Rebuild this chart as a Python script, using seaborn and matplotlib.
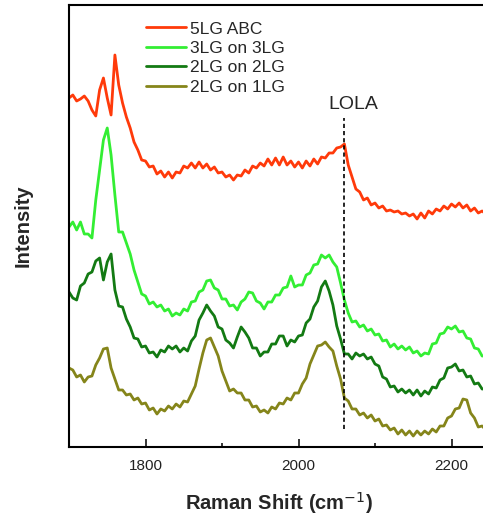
import numpy as np
import pandas as pd
import matplotlib
matplotlib.use("Agg")
import matplotlib.pyplot as plt
import seaborn as sns

# Raman shift grid (cm^-1)
raman_shift = list(range(1700, 2250, 5))

series_names = ["5LG ABC", "3LG on 3LG", "2LG on 2LG", "2LG on 1LG"]

# offset intensities (arb. units)
int_5lg_abc = [
    349, 352, 346, 348, 351, 346, 337, 331, 357, 369, 349, 332, 392, 362, 344, 330,
    319, 305, 297, 287, 286, 280, 281, 273, 276, 270, 275, 269, 275, 274, 281, 279,
    284, 279, 285, 279, 283, 277, 280, 274, 275, 270, 272, 267, 272, 271, 277, 274,
    281, 279, 284, 281, 288, 282, 289, 282, 290, 282, 286, 280, 285, 279, 286, 281,
    288, 283, 290, 289, 294, 294, 299, 300, 303, 282, 270, 258, 255, 247, 249, 242,
    244, 239, 241, 236, 237, 235, 236, 233, 234, 231, 233, 228, 234, 229, 236, 233,
    238, 236, 241, 238, 243, 240, 244, 239, 242, 236, 239, 234, 236, 233]
int_3lg_on_3lg = [
    220, 225, 217, 225, 213, 213, 209, 247, 277, 307, 319, 292, 252, 215, 215, 204,
    193, 177, 165, 153, 151, 143, 145, 140, 142, 136, 138, 131, 134, 132, 138, 136,
    145, 146, 155, 157, 166, 167, 159, 157, 148, 148, 141, 142, 137, 145, 148, 155,
    154, 146, 144, 138, 145, 145, 152, 152, 159, 160, 171, 160, 162, 162, 172, 174,
    182, 183, 192, 189, 192, 185, 180, 164, 147, 134, 125, 126, 120, 122, 116, 118,
    112, 113, 106, 107, 100, 103, 98, 101, 97, 100, 94, 96, 91, 94, 93, 103,
    104, 113, 114, 120, 118, 121, 115, 116, 109, 108, 99, 98, 91, 91]
int_2lg_on_2lg = [
    155, 149, 147, 161, 164, 173, 175, 186, 189, 167, 185, 193, 157, 141, 140, 128,
    120, 109, 108, 100, 101, 94, 95, 90, 97, 95, 101, 98, 101, 95, 99, 96,
    106, 111, 127, 134, 142, 136, 131, 120, 118, 107, 104, 99, 110, 120, 115, 109,
    99, 99, 91, 95, 95, 103, 103, 111, 111, 101, 107, 105, 111, 112, 124, 128,
    140, 146, 160, 166, 156, 142, 121, 108, 93, 93, 88, 94, 91, 93, 88, 90,
    83, 81, 70, 68, 60, 61, 55, 58, 54, 57, 52, 57, 51, 56, 53, 60,
    59, 67, 69, 79, 80, 83, 76, 77, 70, 71, 63, 64, 58, 58]
int_2lg_on_1lg = [
    79, 77, 70, 72, 65, 70, 71, 82, 89, 98, 99, 79, 68, 57, 57, 52,
    53, 47, 49, 43, 44, 37, 39, 33, 38, 36, 41, 38, 43, 40, 46, 45,
    53, 61, 78, 94, 107, 109, 100, 91, 76, 66, 56, 58, 54, 54, 47, 47,
    40, 41, 35, 37, 34, 40, 38, 44, 43, 49, 47, 54, 54, 63, 69, 83,
    92, 101, 102, 105, 100, 96, 81, 68, 49, 46, 38, 38, 32, 34, 29, 32,
    26, 28, 21, 22, 17, 19, 13, 17, 12, 16, 11, 16, 12, 16, 13, 18,
    15, 21, 21, 29, 31, 38, 39, 48, 47, 34, 29, 20, 21, 17]

series_values = [int_5lg_abc, int_3lg_on_3lg, int_2lg_on_2lg, int_2lg_on_1lg]
colors = ["#FF3A0A", "#33EE33", "#137A13", "#85851A"]

lola_position = 2059
lola_span = (18, 329)

frames = []
for name, vals in zip(series_names, series_values):
    frames.append(pd.DataFrame({"shift": raman_shift, "intensity": vals, "series": name}))
df = pd.concat(frames, ignore_index=True)

sns.set_style("white")
plt.rcParams["font.family"] = ["Liberation Sans", "DejaVu Sans"]

fig = plt.figure(figsize=(4.83, 5.19), dpi=100)
ax = fig.add_axes([69 / 483, 72 / 519, 420.75 / 483, 442 / 519])

sns.lineplot(data=df, x="shift", y="intensity", hue="series", hue_order=series_names,
             palette=colors, linewidth=2.0, estimator=None, sort=False, ax=ax)

ax.vlines(lola_position, lola_span[0], lola_span[1], colors="black",
          linestyles=(0, (2.5, 1.8)), linewidth=1.2)
ax.text(2071, 334, "LOLA", fontsize=14, ha="center", va="bottom")

ax.set_xlim(1700, 2250)
ax.set_ylim(0, 442)
ax.set_xticks([1800, 2000, 2200])
ax.set_xticks([1900, 2100], minor=True)
ax.set_yticks([])
ax.tick_params(axis="x", which="major", direction="in", length=6, width=1.3,
               labelsize=11, pad=9, bottom=True, labelcolor="#222222")
ax.tick_params(axis="x", which="minor", direction="in", length=3, width=1.3, bottom=True)
for s in ["left", "bottom", "top", "right"]:
    ax.spines[s].set_color("black")
    ax.spines[s].set_linewidth(1.5)

ax.set_xlabel("Raman Shift (cm$^{-1}$)", fontsize=14.5, fontweight="bold", labelpad=12)
ax.set_ylabel("Intensity", fontsize=14.5, fontweight="bold", labelpad=26)

leg = ax.legend(loc="upper left", bbox_to_anchor=(0.183, 0.963), frameon=False,
                fontsize=12.5, handlelength=2.3, handletextpad=0.25, labelspacing=0.25,
                borderpad=0, borderaxespad=0)
for line in leg.get_lines():
    line.set_linewidth(2.0)

fig.savefig("out.png", dpi=100)
